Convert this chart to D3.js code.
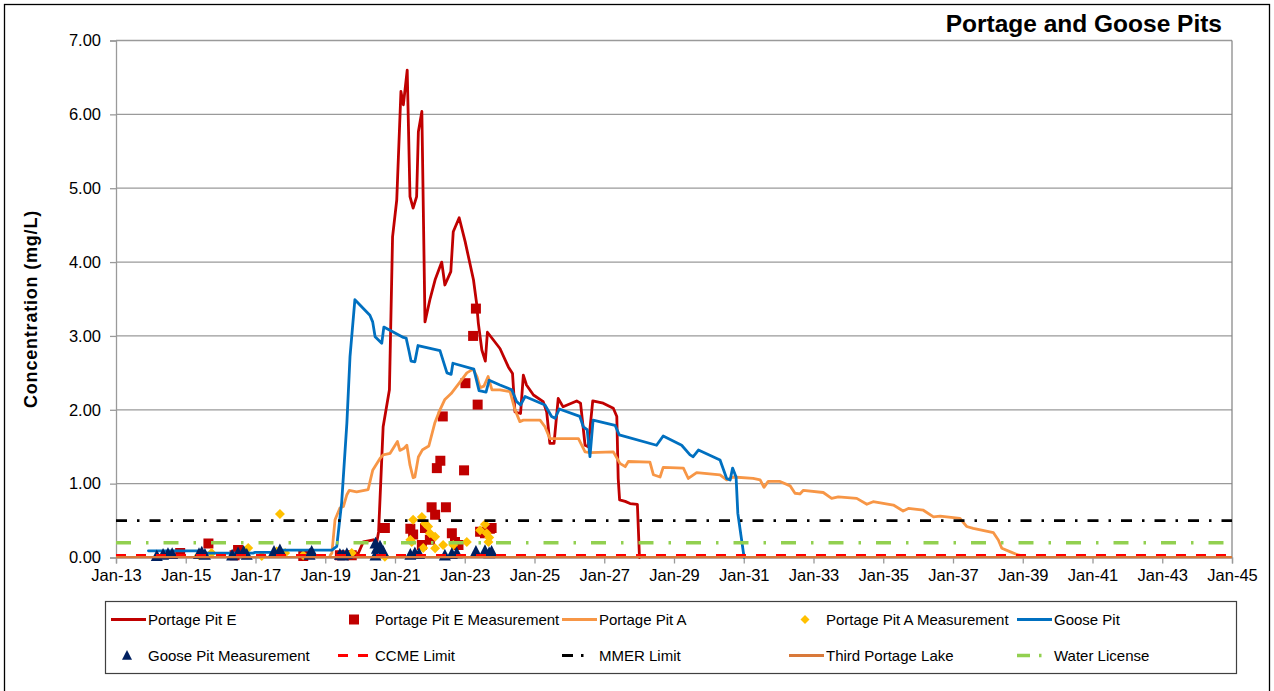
<!DOCTYPE html>
<html>
<head>
<meta charset="utf-8">
<script src="https://cdn.jsdelivr.net/npm/d3@7/dist/d3.min.js"></script>
<style>
  html, body { margin: 0; padding: 0; background: #fff; }
  svg { display: block; font-family: Arial, "Liberation Sans", sans-serif; }
</style>
</head>
<body>
<svg id="chart" width="1274" height="691"></svg>
<script>
// ---------- DATA (decimal year, mg/L) ----------
const titleText = "Portage and Goose Pits";
const yTitle = "Concentration  (mg/L)";
const xTicks = [2013,2015,2017,2019,2021,2023,2025,2027,2029,2031,2033,2035,2037,2039,2041,2043,2045];
const xTickLabels = ["Jan-13","Jan-15","Jan-17","Jan-19","Jan-21","Jan-23","Jan-25","Jan-27","Jan-29","Jan-31","Jan-33","Jan-35","Jan-37","Jan-39","Jan-41","Jan-43","Jan-45"];
const yTicks = [0,1,2,3,4,5,6,7];
const yTickLabels = ["0.00","1.00","2.00","3.00","4.00","5.00","6.00","7.00"];

const portageE = [
 [2019.42,0.03],[2019.95,0.06],[2020.09,0.21],[2020.38,0.24],[2020.47,0.19],[2020.53,0.35],
 [2020.66,1.77],[2020.84,2.27],[2020.93,4.34],[2021.05,4.84],[2021.17,6.31],[2021.24,6.13],
 [2021.35,6.60],[2021.43,4.885],[2021.52,4.73],[2021.62,4.885],[2021.67,5.765],[2021.77,6.04],
 [2021.86,3.19],[2022.00,3.49],[2022.15,3.76],[2022.34,4.00],[2022.43,3.69],[2022.60,3.87],
 [2022.67,4.41],[2022.84,4.60],[2023.01,4.28],[2023.25,3.76],[2023.34,3.44],[2023.39,3.17],
 [2023.49,2.81],[2023.59,2.66],[2023.65,3.05],[2024.01,2.83],[2024.25,2.58],[2024.37,2.49],
 [2024.44,1.97],[2024.60,1.95],[2024.68,2.47],[2024.77,2.335],[2024.97,2.20],[2025.25,2.11],
 [2025.35,1.97],[2025.44,1.546],[2025.56,1.546],[2025.68,2.155],[2025.82,2.04],[2026.21,2.12],
 [2026.32,2.09],[2026.45,1.52],[2026.54,1.50],[2026.67,2.12],[2026.97,2.09],[2027.26,2.02],
 [2027.36,1.91],[2027.40,1.07],[2027.44,0.78],[2027.60,0.76],[2027.74,0.73],[2027.95,0.72],
 [2028.01,0.00]
];
const portageA = [
 [2019.14,0.03],[2019.19,0.06],[2019.28,0.51],[2019.42,0.67],[2019.52,0.69],[2019.62,0.85],
 [2019.69,0.91],[2019.90,0.89],[2020.23,0.92],[2020.36,1.18],[2020.57,1.34],[2020.66,1.39],
 [2020.86,1.41],[2021.07,1.57],[2021.14,1.45],[2021.26,1.48],[2021.34,1.52],[2021.43,1.25],
 [2021.52,1.08],[2021.57,1.09],[2021.67,1.36],[2021.79,1.46],[2021.97,1.51],[2022.14,1.82],
 [2022.29,2.00],[2022.43,2.14],[2022.61,2.22],[2022.84,2.36],[2023.06,2.50],[2023.24,2.55],
 [2023.35,2.45],[2023.44,2.30],[2023.55,2.32],[2023.67,2.45],[2023.78,2.27],[2024.01,2.27],
 [2024.30,2.245],[2024.44,2.00],[2024.58,1.84],[2024.68,1.86],[2025.16,1.86],[2025.30,1.77],
 [2025.44,1.61],[2025.59,1.61],[2026.26,1.61],[2026.45,1.43],[2026.59,1.42],[2027.26,1.43],
 [2027.45,1.275],[2027.60,1.23],[2027.69,1.30],[2028.31,1.29],[2028.41,1.12],[2028.60,1.09],
 [2028.69,1.22],[2029.27,1.21],[2029.41,1.07],[2029.65,1.15],[2030.32,1.12],[2030.51,1.05],
 [2030.70,1.09],[2031.27,1.07],[2031.47,1.05],[2031.58,0.95],[2031.70,1.03],[2032.04,1.03],
 [2032.33,0.97],[2032.47,0.87],[2032.61,0.86],[2032.71,0.91],[2033.28,0.88],[2033.52,0.80],
 [2033.71,0.82],[2034.24,0.80],[2034.53,0.72],[2034.71,0.755],[2035.29,0.71],[2035.57,0.63],
 [2035.72,0.665],[2036.15,0.64],[2036.44,0.55],[2036.63,0.56],[2037.20,0.53],[2037.39,0.42],
 [2037.58,0.395],[2038.16,0.336],[2038.30,0.237],[2038.40,0.125],[2038.63,0.08],[2038.87,0.034],
 [2039.02,0.02]
];
const goosePit = [
 [2013.93,0.09],[2015.35,0.09],[2015.41,0.06],[2016.93,0.06],[2016.99,0.07],[2017.65,0.07],
 [2017.73,0.10],[2019.19,0.10],[2019.33,0.15],[2019.47,0.74],[2019.62,1.82],[2019.71,2.72],
 [2019.85,3.49],[2020.28,3.28],[2020.36,3.19],[2020.43,2.99],[2020.62,2.90],[2020.68,3.12],
 [2021.24,2.98],[2021.32,2.97],[2021.40,2.80],[2021.46,2.66],[2021.57,2.65],[2021.66,2.87],
 [2022.29,2.80],[2022.49,2.50],[2022.61,2.48],[2022.66,2.63],[2023.26,2.55],[2023.41,2.26],
 [2023.61,2.24],[2023.70,2.40],[2024.01,2.335],[2024.35,2.27],[2024.49,2.11],[2024.60,2.065],
 [2024.73,2.18],[2025.30,2.065],[2025.49,1.91],[2025.59,1.885],[2025.71,2.01],[2026.30,1.91],
 [2026.40,1.77],[2026.51,1.73],[2026.59,1.365],[2026.68,1.86],[2027.31,1.79],[2027.43,1.66],
 [2028.50,1.52],[2028.69,1.645],[2029.22,1.52],[2029.46,1.39],[2029.55,1.365],[2029.70,1.455],
 [2030.32,1.32],[2030.51,1.07],[2030.61,1.05],[2030.68,1.21],[2030.78,1.09],[2030.83,0.60],
 [2030.92,0.30],[2031.01,0.00]
];
const thirdPortageLake = [[2013.0,0.004],[2045.0,0.004]];
const ccmeLimit = 0.03;
const mmerLimit = 0.5;
const waterLicense = 0.2;

const portageEMeas = [
 [2014.84,0.06],[2015.65,0.19],[2016.40,0.03],[2016.50,0.10],[2018.37,0.02],[2019.42,0.03],
 [2019.76,0.03],[2020.71,0.40],[2021.44,0.39],[2021.52,0.31],[2021.77,0.17],[2021.86,0.40],
 [2022.00,0.24],[2022.05,0.68],[2022.15,0.58],[2022.20,1.21],[2022.30,1.31],[2022.37,1.91],
 [2022.46,0.68],[2022.63,0.33],[2022.72,0.21],[2022.82,0.17],[2022.98,1.18],[2023.02,2.36],
 [2023.24,3.00],[2023.32,3.37],[2023.37,2.07],[2023.44,0.35],[2023.58,0.33],[2023.72,0.39],
 [2023.77,0.40]
];
const portageAMeas = [
 [2015.38,0.03],[2015.74,0.06],[2016.79,0.13],[2017.18,0.02],[2017.61,0.08],[2017.70,0.59],
 [2017.85,0.06],[2018.37,0.03],[2019.76,0.06],[2020.71,0.01],[2021.44,0.24],[2021.48,0.21],
 [2021.52,0.51],[2021.77,0.55],[2021.81,0.13],[2021.86,0.46],[2021.95,0.42],[2022.00,0.33],
 [2022.15,0.28],[2022.15,0.125],[2022.38,0.17],[2022.67,0.17],[2023.06,0.21],[2023.44,0.37],
 [2023.58,0.45],[2023.63,0.33],[2023.68,0.21],[2023.70,0.27]
];
const gooseMeas = [
 [2014.17,0.02],[2014.35,0.04],[2014.49,0.05],[2014.61,0.05],[2015.38,0.05],[2015.46,0.07],
 [2015.55,0.04],[2016.33,0.03],[2016.50,0.06],[2016.66,0.08],[2016.75,0.04],[2017.53,0.08],
 [2017.70,0.10],[2018.55,0.04],[2018.61,0.08],[2019.42,0.04],[2019.51,0.03],[2019.62,0.05],
 [2020.44,0.03],[2020.44,0.19],[2020.48,0.12],[2020.57,0.15],[2020.66,0.08],[2021.44,0.04],
 [2021.57,0.06],[2021.69,0.05],[2022.43,0.03],[2022.63,0.05],[2022.77,0.06],[2023.32,0.08],
 [2023.58,0.09],[2023.70,0.06],[2023.77,0.08]
];

const legendNames = ["Portage Pit E","Portage Pit E Measurement","Portage Pit A","Portage Pit A Measurement","Goose Pit",
  "Goose Pit Measurement","CCME Limit","MMER Limit","Third Portage Lake","Water License"];

// ---------- STYLES ----------
const C = {
  pe: "#C00000", pa: "#F79646", goose: "#0070C0", tpl: "#D9793A",
  ccme: "#FF0000", mmer: "#000000", wl: "#92D050",
  peM: "#C00000", paM: "#FFC000", gM: "#002060"
};

const svg = d3.select("#chart");
const plot = {left: 116, right: 1232, top: 40.5, bottom: 557.5};

// outer border
svg.append("rect").attr("x", 4.5).attr("y", 4.5).attr("width", 1265).attr("height", 690)
  .attr("fill", "#fff").attr("stroke", "#000").attr("stroke-width", 1.3);

const x = d3.scaleLinear().domain([2013, 2045]).range([plot.left, plot.right]);
const y = d3.scaleLinear().domain([0, 7]).range([plot.bottom, plot.top]);

// gridlines
svg.append("g").selectAll("line").data(yTicks.filter(d => d > 0)).join("line")
  .attr("x1", plot.left).attr("x2", plot.right)
  .attr("y1", d => y(d)).attr("y2", d => y(d))
  .attr("stroke", "#9A9A9A").attr("stroke-width", 1.3);

// plot area right border
svg.append("line").attr("x1", plot.right).attr("x2", plot.right).attr("y1", plot.top).attr("y2", plot.bottom)
  .attr("stroke", "#808080").attr("stroke-width", 1.2);

// axes
const yAxis = d3.axisLeft(y).tickValues(yTicks).tickFormat((d, i) => yTickLabels[i]).tickSize(6).tickPadding(9);
const gy = svg.append("g").attr("transform", `translate(${plot.left},0)`).call(yAxis);
gy.select(".domain").attr("stroke", "#9A9A9A").attr("stroke-width", 1.3);
gy.selectAll(".tick line").attr("stroke", "#9A9A9A").attr("stroke-width", 1.3);
gy.selectAll("text").attr("font-size", 16.5).attr("fill", "#000")
  .attr("font-family", "Arial, 'Liberation Sans', sans-serif");

const xAxis = d3.axisBottom(x).tickValues(xTicks).tickFormat((d, i) => xTickLabels[i]).tickSize(6).tickPadding(6);
const gx = svg.append("g").attr("transform", `translate(0,${plot.bottom})`).call(xAxis);
gx.select(".domain").attr("stroke", "#9A9A9A").attr("stroke-width", 1.3);
gx.selectAll(".tick line").attr("stroke", "#9A9A9A").attr("stroke-width", 1.3);
gx.selectAll("text").attr("font-size", 16.5).attr("fill", "#000")
  .attr("font-family", "Arial, 'Liberation Sans', sans-serif");

// clip
svg.append("clipPath").attr("id", "clip").append("rect")
  .attr("x", plot.left).attr("y", plot.top - 10).attr("width", plot.right - plot.left).attr("height", plot.bottom - plot.top + 20);

const g = svg.append("g").attr("clip-path", "url(#clip)");
const line = d3.line().x(d => x(d[0])).y(d => y(d[1]));

function drawLine(data, color, width, dash) {
  g.append("path").datum(data).attr("d", line).attr("fill", "none")
    .attr("stroke", color).attr("stroke-width", width)
    .attr("stroke-linejoin", "round").attr("stroke-linecap", dash ? "butt" : "round")
    .attr("stroke-dasharray", dash || null);
}
const sq = s => `M${-s},${-s}H${s}V${s}H${-s}Z`;
const dia = s => `M0,${-s}L${s},0L0,${s}L${-s},0Z`;
const tri = s => `M0,${-s * 1.1}L${s},${s * 0.85}L${-s},${s * 0.85}Z`;
function drawMarkers(data, path, color) {
  g.append("g").selectAll("path").data(data).join("path")
    .attr("transform", d => `translate(${x(d[0])},${y(d[1])})`)
    .attr("d", path).attr("fill", color);
}

// series in legend order
drawLine(portageE, C.pe, 2.8);
drawMarkers(portageEMeas, sq(5), C.peM);
drawLine(portageA, C.pa, 2.8);
drawMarkers(portageAMeas, dia(5), C.paM);
drawLine(goosePit, C.goose, 2.8);
drawMarkers(gooseMeas, tri(6), C.gM);
const span = [[2013, 0], [2045, 0]];
drawLine(span.map(d => [d[0], ccmeLimit]), C.ccme, 2.8, "10,10");
drawLine(span.map(d => [d[0], mmerLimit]), C.mmer, 2.8, "11,10,2.5,10");
drawLine(thirdPortageLake, C.tpl, 2.2);
drawLine(span.map(d => [d[0], waterLicense]), C.wl, 3.5, "15,15,2.5,15");

// title
svg.append("text").attr("x", 1222).attr("y", 32).attr("text-anchor", "end")
  .attr("font-size", 24.5).attr("font-weight", "bold").text(titleText);

// y title
svg.append("text").attr("transform", "translate(37,309) rotate(-90)")
  .attr("text-anchor", "middle").attr("font-size", 18).attr("font-weight", "bold")
  .attr("letter-spacing", 0.8).text(yTitle);

// legend
const lg = svg.append("g");
lg.append("rect").attr("x", 105.5).attr("y", 601.5).attr("width", 1131).attr("height", 72)
  .attr("fill", "#fff").attr("stroke", "#404040").attr("stroke-width", 1.2);
const cols = [148, 375, 599, 826, 1054];
const rows = [619.5, 655.5];
const legendItems = [
  {type: "line", color: C.pe}, {type: "sq", color: C.peM}, {type: "line", color: C.pa},
  {type: "dia", color: C.paM}, {type: "line", color: C.goose},
  {type: "tri", color: C.gM}, {type: "dash", color: C.ccme, dash: "10,10", w: 2.8},
  {type: "dash", color: C.mmer, dash: "11,8,2.5,30", w: 2.8}, {type: "line", color: C.tpl},
  {type: "dash", color: C.wl, dash: "13,9,2.5,30", w: 3.5}
];
legendItems.forEach((it, i) => {
  const cx = cols[i % 5], cy = rows[Math.floor(i / 5)];
  const item = lg.append("g");
  if (it.type === "line") {
    item.append("line").attr("x1", cx - 37).attr("x2", cx - 2).attr("y1", cy).attr("y2", cy)
      .attr("stroke", it.color).attr("stroke-width", 2.8);
  } else if (it.type === "dash") {
    item.append("line").attr("x1", cx - 37).attr("x2", cx - 2).attr("y1", cy).attr("y2", cy)
      .attr("stroke", it.color).attr("stroke-width", it.w).attr("stroke-dasharray", it.dash);
  } else {
    const p = it.type === "sq" ? sq(5) : it.type === "dia" ? dia(4.5) : tri(5);
    item.append("path").attr("transform", `translate(${cx - 21},${cy})`).attr("d", p).attr("fill", it.color);
  }
  item.append("text").attr("x", cx).attr("y", cy)
    .attr("dy", "0.35em").attr("font-size", 15).text(legendNames[i]);
});
</script>
</body>
</html>
